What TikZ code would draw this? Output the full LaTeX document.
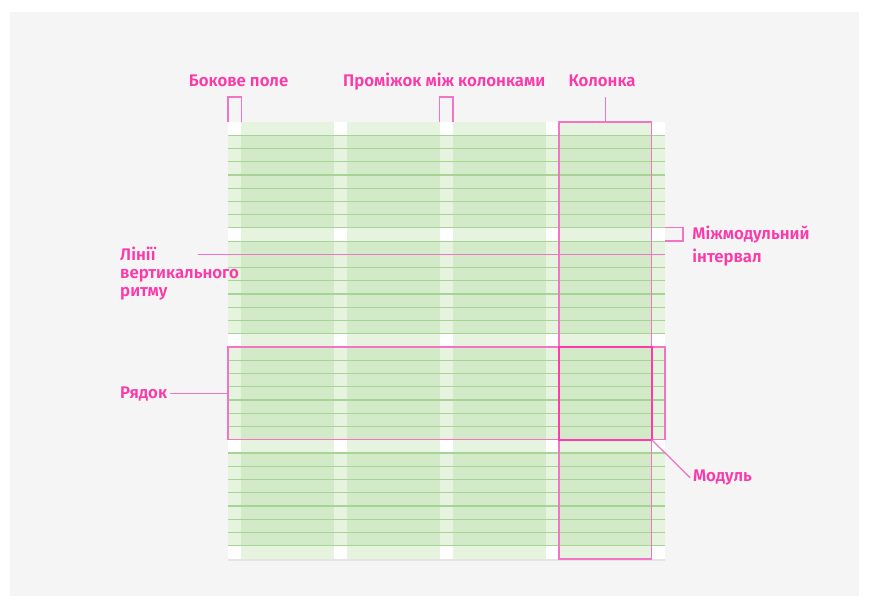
\documentclass[tikz,border=0pt]{standalone}
\usepackage{fontspec}
\setmainfont{Fira Sans}[UprightFont={* SemiBold}]
\usetikzlibrary{positioning,shadows}

\definecolor{canvas}{RGB}{245,245,245}
\definecolor{gridgreen}{RGB}{159,211,140}
\definecolor{rhythm}{RGB}{166,212,149}
\definecolor{pinktext}{RGB}{252,56,170}
\definecolor{pinkline}{RGB}{243,115,196}
\definecolor{pinkbold}{RGB}{255,58,174}

\tikzset{
	lbl/.style={text=pinktext, font=\fontsize{12.6}{17}\selectfont, inner sep=2pt},
	pinkthin/.style={draw=pinkline, line width=0.95pt},
	pinkthick/.style={draw=pinkbold, line width=1.7pt},
	band/.style={fill=gridgreen, fill opacity=0.27}
}

\begin{document}
\begin{tikzpicture}[x=9.93pt, y=9.93pt]
	\useasboundingbox (-17.22,-3.41) rectangle (48.41,42.21);
	% фон
	\fill[white] (-17.22,-3.41) rectangle (48.41,42.21);
	\fill[canvas] (-16.47,-2.79) rectangle (47.66,41.30);
	
	% сторінка 33x33 з тінню
	\fill[white, drop shadow={opacity=0.14, shadow xshift=0pt, shadow yshift=-1.5pt}] (0,0) rectangle (33,33);
	
	% колонки та рядки (перетин дає модуль)
	\foreach \c in {0,...,3} \fill[band] (1+8*\c,0) rectangle (8+8*\c,33);
	\foreach \r in {0,...,3} \fill[band] (0,1+8*\r) rectangle (33,8+8*\r);
	
	% лінії вертикального ритму
	\foreach \r in {0,...,3}
		\foreach \k in {0,...,7}
			\draw[rhythm, line width=0.9pt] (0,1+8*\r+\k) -- (33,1+8*\r+\k);
	
	% колонка, рядок, модуль
	\coordinate (colsw) at (25,0);
	\coordinate (colne) at (32,33);
	\coordinate (rowsw) at (0,9);
	\coordinate (rowne) at (33,16);
	\coordinate (modsw) at (25,9);
	\coordinate (modne) at (32,16);
	\coordinate (modse) at (32,9);
	\draw[pinkthin] (colsw) rectangle (colne);
	\draw[pinkthin] (rowsw) rectangle (rowne);
	\draw[pinkthick] (modsw) rectangle (modne);
	
	% підписи
	\node[lbl, anchor=base] (bokove) at (0.8,35.7) {Бокове поле};
	\node[lbl, anchor=base] (promizh) at (16.33,35.7) {Проміжок між колонками};
	\node[lbl, anchor=base] (kolonka) at (28.25,35.7) {Колонка};
	\node[lbl, anchor=base west, align=left, font=\fontsize{12.6}{17.3}\selectfont] (interval) at (34.85,22.40) {Міжмодульний\\інтервал};
	\node[lbl, anchor=base west, align=left, font=\fontsize{12.6}{13.5}\selectfont] (rytm) at (-8.36,19.80) {Лінії\\вертикального\\ритму};
	\node[lbl, anchor=base west] (riadok) at (-8.36,12.15) {Рядок};
	\node[lbl, anchor=base west] (modul) at (34.9,5.83) {Модуль};
	
	% скоби та виноски
	\coordinate (bpl) at (0,33);
	\coordinate (bpr) at (1,33);
	\draw[pinkthin] (bpl) -- ++(0,1.89) -| (bpr);
	\coordinate (pml) at (16,33);
	\coordinate (pmr) at (17,33);
	\draw[pinkthin] (pml) -- ++(0,1.89) -| (pmr);
	\coordinate (kol) at (28.5,33);
	\draw[pinkthin] (kol) -- ++(0,1.89);
	\coordinate (mmt) at (33,25);
	\coordinate (mmb) at (33,24);
	\draw[pinkthin] (mmt) -- ++(1.37,0) |- (mmb);
	\coordinate (rytmstart) at (-2.27,23);
	\coordinate (rytmend) at (33,23);
	\draw[pinkthin] (rytmstart) -- (rytmend);
	\draw[pinkthin] (riadok.east) -- (riadok.east -| rowsw);
	\draw[pinkthin] (modse) -- (modul.west);
\end{tikzpicture}
\end{document}
